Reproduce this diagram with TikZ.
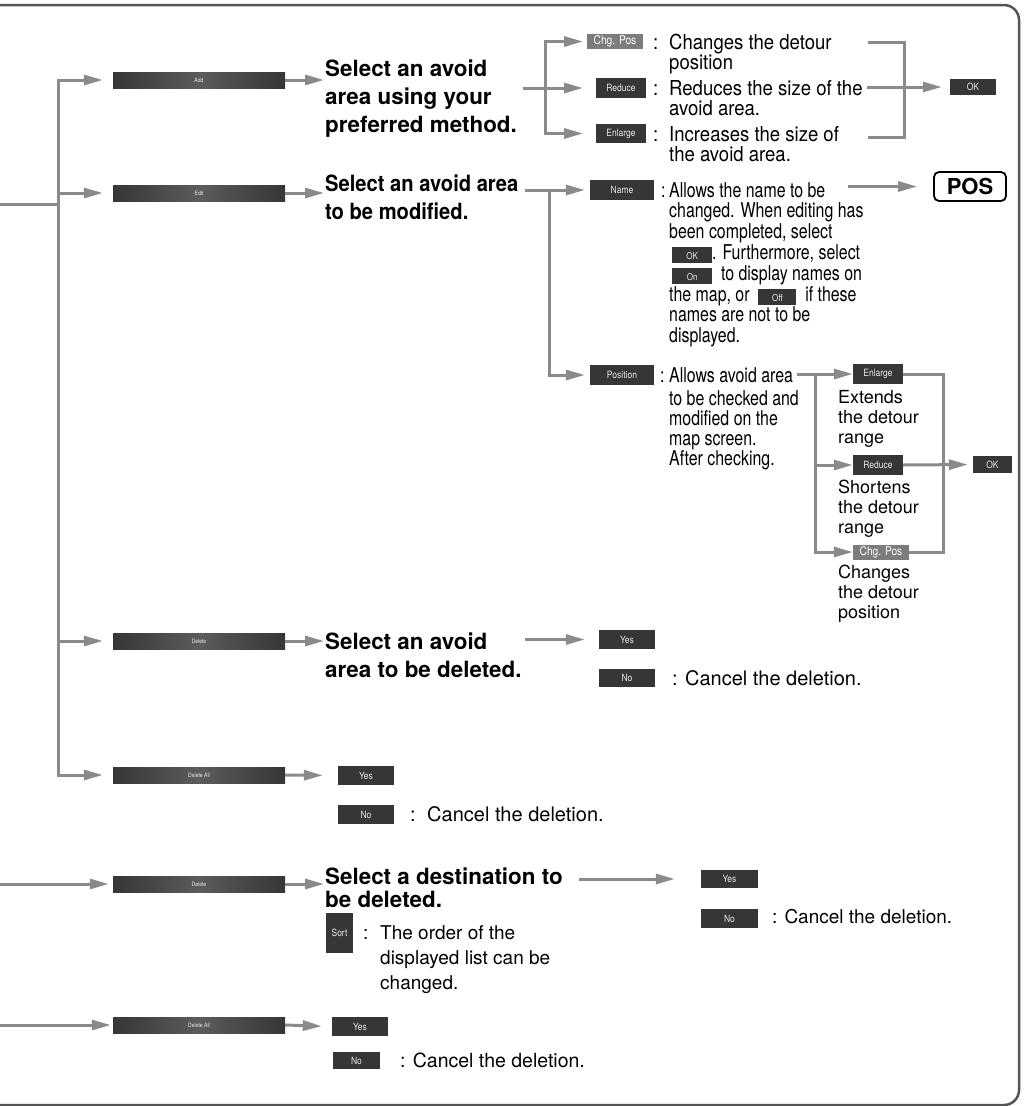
\documentclass[tikz,border=0pt]{standalone}
\usepackage{fontspec}
\setmainfont{TeX Gyre Heros}
\newfontfamily\descfont{TeX Gyre Heros}[FakeStretch=0.9]
\newfontfamily\narrowfont{TeX Gyre Heros}[FakeStretch=0.78]
\newfontfamily\keyfont{TeX Gyre Heros}[FakeStretch=0.85]
\usepackage{tikz}
\usetikzlibrary{positioning, arrows.meta}
\definecolor{FlowGray}{HTML}{8A8A8A}
\definecolor{FrameGray}{HTML}{555555}
\definecolor{KeyDark}{HTML}{363636}
\definecolor{KeyMid}{HTML}{5C5C5C}
\definecolor{KeyLight}{HTML}{7C7C7C}
\definecolor{KeyText}{HTML}{E8E8E8}

% small key shown inside running text
\newcommand{\inkey}[2]{{\setlength{\fboxsep}{0pt}\colorbox{KeyDark}{\makebox[#1][c]{\rule[-4pt]{0pt}{16pt}\color{KeyText}\keyfont\fontsize{9.5}{9.5}\selectfont #2}}}}

\begin{document}
\begin{tikzpicture}[x=1pt, y=-1pt,
    flow/.style={FlowGray, line width=3pt},
    arr/.style={flow, -{Triangle[length=19pt, width=10pt]}},
    widekey/.style={minimum width=172pt, minimum height=16pt, inner sep=0pt,
      left color=KeyDark, right color=KeyDark, middle color=KeyMid,
      text=KeyText!80, font=\keyfont\fontsize{6}{6}\selectfont},
    key/.style={fill=KeyDark, minimum height=19pt, inner sep=0pt, text=KeyText,
      font=\keyfont\fontsize{10}{10}\selectfont},
    lightkey/.style={fill=KeyLight, minimum height=15pt, inner sep=0pt, text=white,
      font=\keyfont\fontsize{12}{12}\selectfont},
    head/.style={anchor=base west, inner sep=0pt, align=left,
      font=\bfseries\fontsize{22.4}{28}\selectfont},
    desc/.style={anchor=base west, inner sep=0pt, align=left,
      font=\descfont\fontsize{20.6}{20}\selectfont},
    note/.style={anchor=base west, inner sep=0pt, align=left,
      font=\narrowfont\fontsize{20.4}{20.8}\selectfont},
    hint/.style={anchor=base west, inner sep=0pt, align=left,
      font=\fontsize{18}{20}\selectfont},
    cancel/.style={anchor=base west, inner sep=0pt, align=left,
      font=\fontsize{20}{24}\selectfont}]
  \useasboundingbox (0,0) rectangle (1023,1106);
  % outer frame
  \draw[FrameGray, line width=2.5pt, rounded corners=15pt]
    (0,5) -- (1019,5) -- (1019,1105) -- (0,1105);

  % main menu keys
  \node[widekey] (add) at (199,80) {Add};
  \node[widekey] (edit) at (199,193) {Edit};
  \node[widekey] (delA) at (199,641) {Delete};
  \node[widekey] (delAllA) at (199,775) {Delete All};
  \node[widekey] (delB) at (199,884) {Delete};
  \node[widekey] (delAllB) at (199,1025) {Delete All};

  \coordinate (feed) at (0,204);
  \coordinate (trunk) at (58,204);
  \draw[flow] (feed) -- (trunk);
  \draw[flow, line cap=rect] (trunk |- add) -- (trunk |- delAllA);
  \foreach \k in {add,edit,delA,delAllA}
    \draw[arr, shorten >=10pt] (trunk |- \k.west) -- (\k.west);

  % headings (base = last line)
  \node[head] (headA) at (325,132) {Select an avoid\\area using your\\preferred method.};
  \node[head, font=\descfont\bfseries\fontsize{22.4}{28}\selectfont] (headB) at (325,219)
    {Select an avoid area\\to be modified.};
  \node[head] (headC) at (325,677) {Select an avoid\\area to be deleted.};
  \node[head, font=\bfseries\fontsize{22.4}{23}\selectfont] (headD) at (325,907)
    {Select a destination to\\be deleted.};
  \draw[arr, shorten >=1pt] (add.east) -- (add.east -| headA.west);
  \draw[arr, shorten >=1pt] (edit.east) -- (edit.east -| headB.west);
  \draw[arr, shorten >=1pt] (delA.east) -- (delA.east -| headC.west);
  \draw[arr, shorten >=1pt] (delB.east) -- (delB.east -| headD.west);

  % add: adjust the area
  \node[lightkey, minimum width=56pt] (chgA) at (615,41.5) {Chg. Pos};
  \node[key, minimum width=50pt, minimum height=20pt] (redA) at (621,88) {Reduce};
  \node[key, minimum width=50pt] (enlA) at (621,133.5) {Enlarge};
  \node[desc] (colChgA) at (653,49) {:};
  \node[desc] (colRedA) at (653,95) {:};
  \node[desc] (colEnlA) at (653,141) {:};
  \node[desc] (txtChgA) at (669,69) {Changes the detour\\position};
  \node[desc] (txtRedA) at (669,115) {Reduces the size of the\\avoid area.};
  \node[desc] (txtEnlA) at (669,161) {Increases the size of\\the avoid area.};
  \coordinate (startA) at (523,88);
  \coordinate (forkA) at (545,88);
  \coordinate (tipA) at (583,0);
  \draw[flow] (startA) -- (forkA);
  \draw[flow, line cap=rect] (forkA |- chgA) -- (forkA |- enlA);
  \foreach \k in {chgA,redA,enlA}
    \draw[arr] (forkA |- \k) -- (tipA |- \k);
  \coordinate (brA1) at (868,42);
  \coordinate (brA2) at (868,137);
  \coordinate (brAx) at (904,0);
  \draw[flow] (brA1) -- (brA1 -| brAx) -- (brA2 -| brAx) -- (brA2);
  \node[key, minimum width=46pt, minimum height=16pt] (okA) at (973,87) {OK};
  \coordinate (brA3) at (867,87);
  \draw[arr, shorten >=8pt] (brA3) -- (okA.west);

  % edit: name and position
  \node[key, minimum width=64pt, minimum height=20pt] (name) at (622,190) {Name};
  \node[key, minimum width=64pt, minimum height=20pt] (position) at (622,375) {Position};
  \coordinate (startB) at (525,190);
  \coordinate (forkB) at (549,190);
  \draw[flow] (startB) -- (forkB);
  \draw[flow, line cap=rect] (forkB) -- (forkB |- position);
  \draw[arr, shorten >=5pt] (forkB) -- (name.west);
  \draw[arr, shorten >=5pt] (forkB |- position) -- (position.west);
  \node[note] (colName) at (661,197) {:};
  \node[note] (txtName) at (669,342.6) {Allows the name to be\\changed. When editing has\\been completed, select\\
    \hspace{3pt}\inkey{40pt}{OK}. Furthermore, select\\\hspace{3pt}\inkey{40pt}{On}\ \ to display names on\\
    the map, or \ \inkey{38pt}{Off}\ \ if these\\names are not to be\\displayed.};
  \node[draw=black, line width=1.8pt, rounded corners=5pt, minimum width=72pt,
    minimum height=29pt, inner sep=0pt, font=\bfseries\fontsize{22}{22}\selectfont]
    (posKey) at (970,186.5) {POS};
  \coordinate (startPos) at (848,186.5);
  \draw[arr, shorten >=16pt] (startPos) -- (posKey.west);

  \node[note] (colPos) at (660,382) {:};
  \node[note, font=\narrowfont\fontsize{20.4}{20}\selectfont] (txtPos) at (669,465)
    {Allows avoid area\\[3pt]to be checked and\\modified on the\\map screen.\\After checking.};
  \node[key, minimum width=50pt, minimum height=20pt] (enlB) at (878,374) {Enlarge};
  \node[key, minimum width=50pt, minimum height=20pt] (redB) at (878,465) {Reduce};
  \node[lightkey, minimum width=56pt] (chgB) at (881,552) {Chg. Pos};
  \coordinate (startC) at (797,374);
  \coordinate (forkC) at (815,374);
  \draw[flow] (startC) -- (forkC);
  \draw[flow, line cap=rect] (forkC) -- (forkC |- chgB);
  \foreach \k in {enlB,redB,chgB}
    \draw[arr] (forkC |- \k) -- (\k.west);
  \node[hint] (txtEnlB) at (838,443) {Extends\\the detour\\range};
  \node[hint] (txtRedB) at (838,533) {Shortens\\the detour\\range};
  \node[hint] (txtChgB) at (838,618) {Changes\\the detour\\position};
  \coordinate (brCx) at (943,0);
  \draw[flow] (enlB.east) -- (enlB.east -| brCx) -- (chgB.east -| brCx) -- (chgB.east);
  \node[key, minimum width=39pt, minimum height=17pt] (okB) at (992.5,464.5) {OK};
  \draw[arr, shorten >=5pt] (redB.east) -- (okB.west);

  % delete an avoid area
  \node[key, minimum width=56pt] (yesA) at (627,639.5) {Yes};
  \node[key, minimum width=56pt, minimum height=18pt] (noA) at (627,678) {No};
  \coordinate (startD) at (525,639.5);
  \draw[arr, shorten >=14pt] (startD) -- (yesA.west);
  \node[cancel] (txtNoA) at (672,685) {: Cancel the deletion.};

  % delete all avoid areas
  \node[key, minimum width=56pt] (yesB) at (366,775.5) {Yes};
  \node[key, minimum width=56pt] (noB) at (366,814.5) {No};
  \draw[arr, shorten >=15pt] (delAllA.east) -- (yesB.west);
  \node[cancel] (colNoB) at (410,821) {:};
  \node[cancel] (txtNoB) at (427,821) {Cancel the deletion.};

  % delete a destination
  \node[key, minimum width=57pt, minimum height=18pt] (yesC) at (729.5,879) {Yes};
  \node[key, minimum width=57pt] (noC) at (729.5,918.5) {No};
  \coordinate (startE) at (579,879);
  \draw[arr, shorten >=26pt] (startE) -- (yesC.west);
  \node[cancel, font=\fontsize{19}{24}\selectfont] (txtNoC) at (772,923) {: Cancel the deletion.};
  \node[key, minimum width=27pt, minimum height=40pt, font=\keyfont\fontsize{10}{10}\selectfont]
    (sortKey) at (339.5,933) {Sort};
  \node[cancel, font=\fontsize{19}{25}\selectfont] (colSort) at (363,939) {:};
  \node[cancel, font=\fontsize{19}{25}\selectfont] (txtSort) at (380,989)
    {The order of the\\displayed list can be\\changed.};
  \coordinate (feedB) at (0,884);
  \draw[arr, shorten >=4pt] (feedB) -- (delB.west);

  % delete all destinations
  \node[key, minimum width=56pt] (yesD) at (360,1026.5) {Yes};
  \node[key, minimum width=47pt, minimum height=17pt] (noD) at (356.5,1060.5) {No};
  \coordinate (feedC) at (0,1025);
  \draw[arr, shorten >=2pt] (feedC) -- (delAllB.west);
  \draw[arr, shorten >=10pt] (delAllB.east) -- (yesD.west);
  \node[cancel, font=\fontsize{19.5}{24}\selectfont] (txtNoD) at (400,1067) {: Cancel the deletion.};
\end{tikzpicture}
\end{document}
